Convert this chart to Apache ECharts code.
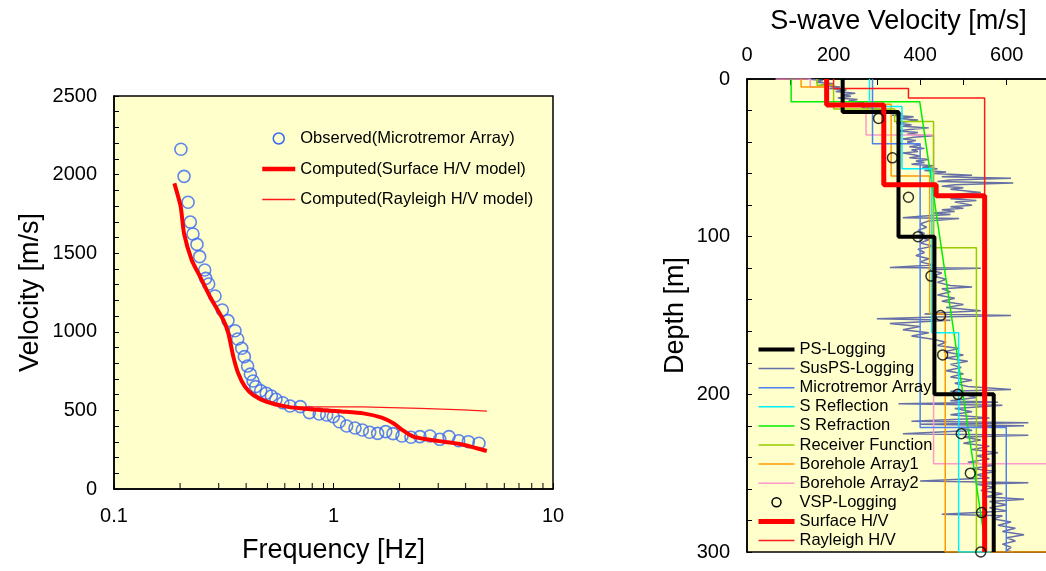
<!DOCTYPE html>
<html>
<head>
<meta charset="utf-8">
<script src="https://cdn.jsdelivr.net/npm/echarts@6/dist/echarts.min.js"></script>
<style>
  html, body { margin: 0; padding: 0; background: #fff; }
  #chart { width: 1046px; height: 571px; }
</style>
</head>
<body>
<div id="chart"></div>
<script>
// ---- Dispersion curve (left panel) ----
const obsFreq = [0.2018,0.2085,0.2175,0.2227,0.229,0.2388,0.2456,0.259,0.2617,0.270,0.2885,0.3115,0.3306,0.3559,0.366,0.382,0.3925,0.406,0.418,0.430,0.442,0.466,0.494,0.521,0.547,0.587,0.634,0.706,0.776,0.861,0.931,0.998,1.063,1.148,1.253,1.353,1.462,1.589,1.729,1.866,2.051,2.254,2.477,2.753,3.048,3.359,3.718,4.114,4.600];
const obsVel = [2161,1989,1824,1698,1622,1556,1478,1393,1340,1304,1228,1139,1071,1007,954,895,842,782,731,687,651,625,609,592,571,549,528,524,486,477,471,460,428,401,388,375,361,354,365,352,337,329,333,337,316,333,307,301,291];

const surfFreq = [0.1884,0.2013,0.2084,0.2259,0.2465,0.2737,0.3148,0.332,0.3496,0.368,0.395,0.431,0.496,0.612,0.781,1.109,1.367,1.658,1.873,2.08,2.31,2.658,3.165,3.77,4.49,4.99];
const surfVel = [1944,1796,1627,1457,1351,1223,1075,990,842,736,651,598,555,524,507,492,481,454,418,371,333,316,301,286,259,242];

const rayFreq = [0.1884,0.2013,0.2084,0.2259,0.2465,0.2737,0.3148,0.332,0.3496,0.368,0.395,0.431,0.496,0.612,0.78,1.35,1.36,2.48,2.5,3.9,3.95,5.0];
const rayVel = [1944,1796,1627,1457,1351,1223,1075,990,842,736,651,598,555,524,523,523,513,513,503,503,496,496];

// minor ticks of the logarithmic frequency axis
const freqMinorTicks = [0.2,0.3,0.4,0.5,0.6,0.7,0.8,0.9,2,3,4,5,6,7,8,9];

// ---- S-wave velocity profiles (right panel), pairs of [velocity m/s, depth m] ----
const psLogging = [[221,0],[221,21],[350,21],[350,100],[433,100],[433,200],[570,200],[570,300]];
const microtremorArray = [[290,0],[290,41],[400,41],[400,221],[599,221],[599,300]];
const sReflection = [[283,0],[283,17.5],[358,17.5],[358,57],[427,57],[427,161],[489,161],[489,300],[562,300]];
const sRefraction = [[102,0],[102,14.4],[399,14.4],[553,300]];
const receiverFunction = [[162,0],[162,4],[200,4],[200,19],[341,19],[341,27],[431,27],[431,107],[530,107],[530,300]];
const boreholeArray1 = [[125,0],[125,5],[185,5],[185,16],[333,16],[333,61.5],[422,61.5],[422,149],[458,149],[458,300],[720,300]];
const boreholeArray2 = [[66,0],[146,0],[146,5],[184,5],[184,16],[275,16],[275,35.5],[431,35.5],[431,244],[720,244]];
const surfaceHV = [[184,0],[184,16.5],[316,16.5],[316,67],[437,67],[437,74],[549,74],[549,300]];
const rayleighHV = [[200,0],[200,6],[373,6],[373,12],[549,12],[549,300]];

const vspDepth = [25,50,75,100,125,150,175,200,225,250,275,300];
const vspVel = [304,336,373,395,425,447,452,487,495,516,542,540];

const susDepth = [0,1,2,3,4,5,6,7,8,9,10,11,12,13,14,15,16,17,18,19,20,21,22,23,24,25,26,27,28,29,30,31,32,33,34,35,36,37,38,39,40,42,43,44,45,46,47,48,49,50,51,52,53,54,55,56,57,58,59,60,61,62,63,64,65,66,67,68,69,70,72,73,74,75,76,77,78,80,81,82,83,84,85,86,87,88,88.5,90,92,94,96,98,100,102,104,106,108,110,112,114,116,118,119.5,120,121,123,125,127,129,131,132,133,135,137,139,141,143,145,147,148,149,150,151,152,153,155,157,159,161,163,165,167,169,171,173,175,177,179,181,183,185,187,189,191,193,195,197,198,200,202,204,205,206,207,209,211,213,215,217,218,219,220,221,223,225,226,227,229,231,233,235,237,239,241,243,245,247,249,251,253,255,256,257,259,261,263,265,266.5,268,270,272,274,276,277,279,281,283,285,287,289,291,293,295,297,299,300];
const susVel = [140,175,160,200,170,215,190,230,205,250,220,240,210,255,235,270,250,290,265,300,330,310,360,335,385,350,395,370,345,380,360,420,375,350,395,370,430,385,360,390,370,400,375,410,380,395,360,385,400,375,420,390,410,380,430,405,440,410,460,430,520,450,610,470,440,615,480,450,500,470,540,490,460,510,470,530,480,520,470,500,450,480,430,470,400,360,490,420,400,415,395,410,395,420,400,430,395,410,390,420,400,430,330,540,420,450,430,460,440,470,520,450,470,440,480,450,500,460,540,470,410,610,440,300,470,330,400,360,420,380,430,460,440,490,455,500,460,510,470,495,460,500,470,520,480,510,610,470,500,530,470,580,350,590,480,520,470,560,380,650,400,640,490,520,360,650,500,540,500,560,520,580,530,560,510,570,520,575,530,560,400,650,530,570,540,590,550,640,560,600,560,600,450,590,570,610,580,620,590,640,600,620,590,610,600,615];

const FONT = 'Liberation Sans, Arial, sans-serif';
const BG = '#FFFFCC';
const OBS_BLUE = '#3868f2';

function zip(xs, ys) { return xs.map((x, i) => [x, ys[i]]); }
function plainNumber(v) { return String(v); }

const chart = echarts.init(document.getElementById('chart'), null, { renderer: 'canvas' });

const axisTxt = { color: '#000', fontFamily: FONT, fontSize: 20, formatter: plainNumber };
const nameTxt = { color: '#000', fontFamily: FONT, fontSize: 27 };
const blackLine = { lineStyle: { color: '#000', width: 1.5 } };
const legendTxt = { color: '#000', fontFamily: FONT, fontSize: 16.5, lineHeight: 16 };
const thin = { width: 1.5 };

chart.setOption({
  backgroundColor: '#fff',
  animation: false,
  grid: [
    { left: 114, top: 96, right: 493, bottom: 82, show: true, backgroundColor: BG, borderColor: '#000', borderWidth: 1.5, outerBoundsMode: 'none' },
    { left: 747, top: 79, right: -4, bottom: 19, show: true, backgroundColor: BG, borderColor: '#000', borderWidth: 1.5, outerBoundsMode: 'none' }
  ],
  xAxis: [
    {
      gridIndex: 0, type: 'log', logBase: 10, min: 0.1, max: 10,
      name: 'Frequency [Hz]', nameLocation: 'middle', nameGap: 48, nameTextStyle: nameTxt,
      axisLine: blackLine,
      axisTick: { inside: true, length: 6, lineStyle: { color: '#000' } },
      axisLabel: Object.assign({ margin: 17 }, axisTxt),
      splitLine: { show: false }, minorTick: { show: false }
    },
    {
      gridIndex: 1, type: 'value', position: 'top', min: 0, max: 700, interval: 200,
      name: 'S-wave Velocity [m/s]', nameLocation: 'middle', nameGap: 44, nameTextStyle: nameTxt,
      axisLine: blackLine,
      axisTick: { inside: true, length: 6, lineStyle: { color: '#000' } },
      minorTick: { show: true, splitNumber: 2, length: 6, lineStyle: { color: '#000' } },
      axisLabel: Object.assign({ margin: 14, showMaxLabel: false }, axisTxt),
      splitLine: { show: false }
    }
  ],
  yAxis: [
    {
      gridIndex: 0, type: 'value', min: 0, max: 2500, interval: 500,
      name: 'Velocity [m/s]', nameLocation: 'middle', nameGap: 70, nameTextStyle: nameTxt,
      axisLine: blackLine,
      axisTick: { inside: true, length: 5, lineStyle: { color: '#000' } },
      minorTick: { show: true, splitNumber: 5, length: 5, lineStyle: { color: '#000' } },
      axisLabel: Object.assign({ margin: 17 }, axisTxt),
      splitLine: { show: false }
    },
    {
      gridIndex: 1, type: 'value', inverse: true, min: 0, max: 300, interval: 100,
      name: 'Depth [m]', nameLocation: 'middle', nameGap: 58, nameTextStyle: nameTxt,
      axisLine: blackLine,
      axisTick: { inside: true, length: 5, lineStyle: { color: '#000' } },
      minorTick: { show: true, splitNumber: 5, length: 5, lineStyle: { color: '#000' } },
      axisLabel: Object.assign({ margin: 17 }, axisTxt),
      splitLine: { show: false }
    }
  ],
  legend: [
    {
      orient: 'vertical', left: 260, top: 130, padding: 0, itemWidth: 33, itemHeight: 11, itemGap: 13.5,
      textStyle: legendTxt,
      itemStyle: { opacity: 0 },
      data: [
        { name: 'Observed(Microtremor Array)', icon: 'circle', itemStyle: { opacity: 1, color: 'transparent', borderColor: OBS_BLUE, borderWidth: 1.5 } },
        { name: 'Computed(Surface H/V model)', lineStyle: { width: 4.5 } },
        { name: 'Computed(Rayleigh H/V model)', lineStyle: { width: 1.3 } }
      ]
    },
    {
      orient: 'vertical', left: 756, top: 341, padding: 0, itemWidth: 36, itemHeight: 9, itemGap: 2.1,
      textStyle: legendTxt,
      itemStyle: { opacity: 0 },
      data: [
        { name: 'PS-Logging', lineStyle: { width: 4 } },
        { name: 'SusPS-Logging', lineStyle: thin },
        { name: 'Microtremor Array', lineStyle: thin },
        { name: 'S Reflection', lineStyle: thin },
        { name: 'S Refraction', lineStyle: thin },
        { name: 'Receiver Function', lineStyle: thin },
        { name: 'Borehole Array1', lineStyle: thin },
        { name: 'Borehole Array2', lineStyle: thin },
        { name: 'VSP-Logging', icon: 'circle', itemStyle: { opacity: 1, color: 'transparent', borderColor: '#000', borderWidth: 1.5 } },
        { name: 'Surface H/V', lineStyle: { width: 5 } },
        { name: 'Rayleigh H/V', lineStyle: thin }
      ]
    }
  ],
  series: [
    // left panel
    {
      name: 'Computed(Rayleigh H/V model)', type: 'line', xAxisIndex: 0, yAxisIndex: 0,
      data: zip(rayFreq, rayVel), symbol: 'none', lineStyle: { color: '#ff1a1a', width: 1.3 }, itemStyle: { color: '#ff1a1a' }
    },
    {
      name: 'Computed(Surface H/V model)', type: 'line', xAxisIndex: 0, yAxisIndex: 0,
      data: zip(surfFreq, surfVel), symbol: 'none', smooth: 0.2,
      lineStyle: { color: '#ff0000', width: 4 }, itemStyle: { color: '#ff0000' }
    },
    {
      name: 'Observed(Microtremor Array)', type: 'scatter', xAxisIndex: 0, yAxisIndex: 0,
      data: zip(obsFreq, obsVel), symbol: 'circle', symbolSize: 12,
      itemStyle: { color: 'transparent', borderColor: OBS_BLUE, borderWidth: 1.6 }
    },
    {
      type: 'custom', xAxisIndex: 0, yAxisIndex: 0, silent: true, z: 5,
      data: freqMinorTicks.map(f => [f, 0]),
      renderItem: function (params, api) {
        const p = api.coord([api.value(0), 0]);
        return { type: 'line', shape: { x1: p[0], y1: p[1], x2: p[0], y2: p[1] - 6 }, style: { stroke: '#000', lineWidth: 1 } };
      }
    },
    // right panel
    {
      name: 'SusPS-Logging', type: 'line', xAxisIndex: 1, yAxisIndex: 1,
      data: zip(susVel, susDepth), symbol: 'none', lineStyle: { color: '#6670a6', width: 1.5 }, itemStyle: { color: '#6670a6' }
    },
    {
      name: 'Borehole Array2', type: 'line', xAxisIndex: 1, yAxisIndex: 1,
      data: boreholeArray2, symbol: 'none', lineStyle: { color: '#ff99cc', width: 1.5 }, itemStyle: { color: '#ff99cc' }
    },
    {
      name: 'Borehole Array1', type: 'line', xAxisIndex: 1, yAxisIndex: 1,
      data: boreholeArray1, symbol: 'none', lineStyle: { color: '#ff9900', width: 1.5 }, itemStyle: { color: '#ff9900' }
    },
    {
      name: 'Receiver Function', type: 'line', xAxisIndex: 1, yAxisIndex: 1,
      data: receiverFunction, symbol: 'none', lineStyle: { color: '#99cc00', width: 1.5 }, itemStyle: { color: '#99cc00' }
    },
    {
      name: 'S Refraction', type: 'line', xAxisIndex: 1, yAxisIndex: 1,
      data: sRefraction, symbol: 'none', lineStyle: { color: '#00ee00', width: 1.5 }, itemStyle: { color: '#00ee00' }
    },
    {
      name: 'S Reflection', type: 'line', xAxisIndex: 1, yAxisIndex: 1,
      data: sReflection, symbol: 'none', lineStyle: { color: '#00f0ff', width: 1.5 }, itemStyle: { color: '#00f0ff' }
    },
    {
      name: 'Microtremor Array', type: 'line', xAxisIndex: 1, yAxisIndex: 1,
      data: microtremorArray, symbol: 'none', lineStyle: { color: '#4d7ff0', width: 1.5 }, itemStyle: { color: '#4d7ff0' }
    },
    {
      name: 'Rayleigh H/V', type: 'line', xAxisIndex: 1, yAxisIndex: 1,
      data: rayleighHV, symbol: 'none', lineStyle: { color: '#ff1a1a', width: 1.5 }, itemStyle: { color: '#ff1a1a' }
    },
    {
      name: 'PS-Logging', type: 'line', xAxisIndex: 1, yAxisIndex: 1,
      data: psLogging, symbol: 'none', lineStyle: { color: '#000', width: 4 }, itemStyle: { color: '#000' }
    },
    {
      name: 'Surface H/V', type: 'line', xAxisIndex: 1, yAxisIndex: 1,
      data: surfaceHV, symbol: 'none', lineStyle: { color: '#ff0000', width: 5 }, itemStyle: { color: '#ff0000' }
    },
    {
      name: 'VSP-Logging', type: 'scatter', xAxisIndex: 1, yAxisIndex: 1, z: 4,
      data: zip(vspVel, vspDepth), symbol: 'circle', symbolSize: 10,
      itemStyle: { color: 'transparent', borderColor: '#000', borderWidth: 1.5 }
    }
  ]
});
</script>
</body>
</html>
